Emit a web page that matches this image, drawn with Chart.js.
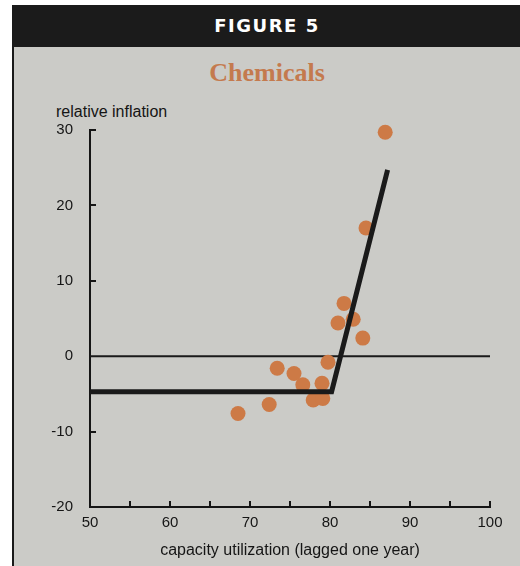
<!DOCTYPE html>
<html>
<head>
<meta charset="utf-8">
<script src="https://cdn.jsdelivr.net/npm/chart.js@4.4.0/dist/chart.umd.min.js"></script>
<style>
  html, body { margin: 0; padding: 0; background: #fff; }
  #wrap { position: relative; width: 520px; height: 566px; overflow: hidden; }
  #panel { position: absolute; left: 12px; top: 5px; width: 508px; height: 561px;
           border-left: 2px solid #1a1a1a; background: #cbcbc7; box-sizing: border-box; }
  #head { position: absolute; left: 0; top: 0; width: 100%; height: 42px; background: #1b1b1b;
          color: #fff; font: bold 18px "DejaVu Sans"; letter-spacing: 1.5px; text-align: center; line-height: 42px; }
  #sub { position: absolute; left: 0; top: 53px; width: 100%; text-align: center;
         font: bold 26px "Liberation Serif"; color: #c47a4e; }
  #ytitle { position: absolute; left: 56px; top: 103px; font: 16px "Liberation Sans"; color: #151515; }
  canvas { position: absolute; left: 0; top: 0; }
</style>
</head>
<body>
<div id="wrap">
  <div id="panel">
    <div id="head">FIGURE 5</div>
    <div id="sub">Chemicals</div>
  </div>
  <div id="ytitle">relative inflation</div>
  <canvas id="chart" width="520" height="566"></canvas>
</div>
<script>
// capacity utilization (lagged) vs relative inflation
var pointX = [68.5, 72.4, 73.4, 75.5, 76.6, 77.9, 79.1, 79.0, 79.75, 81.0, 81.75, 82.9, 84.1, 84.5, 86.9];
var pointY = [-7.6, -6.4, -1.6, -2.3, -3.8, -5.8, -5.6, -3.6, -0.8, 4.4, 7.0, 4.9, 2.4, 17.0, 29.7];

// fitted kinked line
var fitX = [50, 80.2, 87.2];
var fitY = [-4.7, -4.7, 24.7];

// zero reference line
var zeroX = [50, 100];
var zeroY = [0, 0];

var xTicks = [50, 60, 70, 80, 90, 100];
var yTicks = [-20, -10, 0, 10, 20, 30];

function toXY(xs, ys) {
    return xs.map(function(x, i) { return { x: x, y: ys[i] }; });
}

var ink = '#151515';

// small tick marks drawn inside the plot, like the print version
var innerTicks = {
    id: 'innerTicks',
    afterDraw: function(chart) {
        var c = chart.ctx, xs = chart.scales.x, ys = chart.scales.y;
        var a = chart.chartArea;
        c.save();
        c.strokeStyle = ink;
        c.lineWidth = 2;
        c.beginPath();
        for (var v = 55; v <= 100; v += 5) {
            var px = Math.round(xs.getPixelForValue(v));
            c.moveTo(px, a.bottom);
            c.lineTo(px, a.bottom - 6);
        }
        for (var w = -10; w <= 30; w += 10) {
            if (w === 0) continue;
            var py = Math.round(ys.getPixelForValue(w));
            c.moveTo(a.left, py);
            c.lineTo(a.left + 6, py);
        }
        c.stroke();
        c.restore();
    }
};

var ctx = document.getElementById('chart').getContext('2d');
var myChart = new Chart(ctx, {
    type: 'scatter',
    data: {
        datasets: [{
            data: toXY(fitX, fitY),
            showLine: true,
            borderColor: '#1a1a1a',
            borderWidth: 5,
            borderCapStyle: 'butt',
            pointRadius: 0,
            clip: false
        }, {
            data: toXY(pointX, pointY),
            backgroundColor: '#cd7a46',
            borderWidth: 0,
            pointRadius: 7.5,
            clip: false
        }, {
            data: toXY(zeroX, zeroY),
            showLine: true,
            borderColor: '#1a1a1a',
            borderWidth: 2,
            pointRadius: 0
        }]
    },
    options: {
        responsive: false,
        animation: false,
        layout: { padding: { top: 130, right: 30, bottom: 0, left: 0 } },
        plugins: { legend: { display: false }, tooltip: { enabled: false } },
        scales: {
            x: {
                type: 'linear',
                min: 50, max: 100,
                afterBuildTicks: function(s) { s.ticks = xTicks.map(function(v) { return { value: v }; }); },
                afterFit: function(s) { s.height = 59; },
                grid: { drawOnChartArea: false, drawTicks: false },
                border: { color: ink, width: 2 },
                ticks: { color: ink, padding: 7, font: { family: 'Liberation Sans', size: 15 } },
                title: {
                    display: true,
                    text: 'capacity utilization (lagged one year)',
                    color: ink,
                    font: { family: 'Liberation Sans', size: 16 },
                    padding: { top: 0, bottom: 6 }
                }
            },
            y: {
                type: 'linear',
                min: -20, max: 30,
                afterBuildTicks: function(s) { s.ticks = yTicks.map(function(v) { return { value: v }; }); },
                afterFit: function(s) { s.width = 90; },
                grid: { drawOnChartArea: false, drawTicks: false },
                border: { color: ink, width: 2 },
                ticks: { color: ink, padding: 17, font: { family: 'Liberation Sans', size: 15 } }
            }
        }
    },
    plugins: [innerTicks]
});
</script>
</body>
</html>
